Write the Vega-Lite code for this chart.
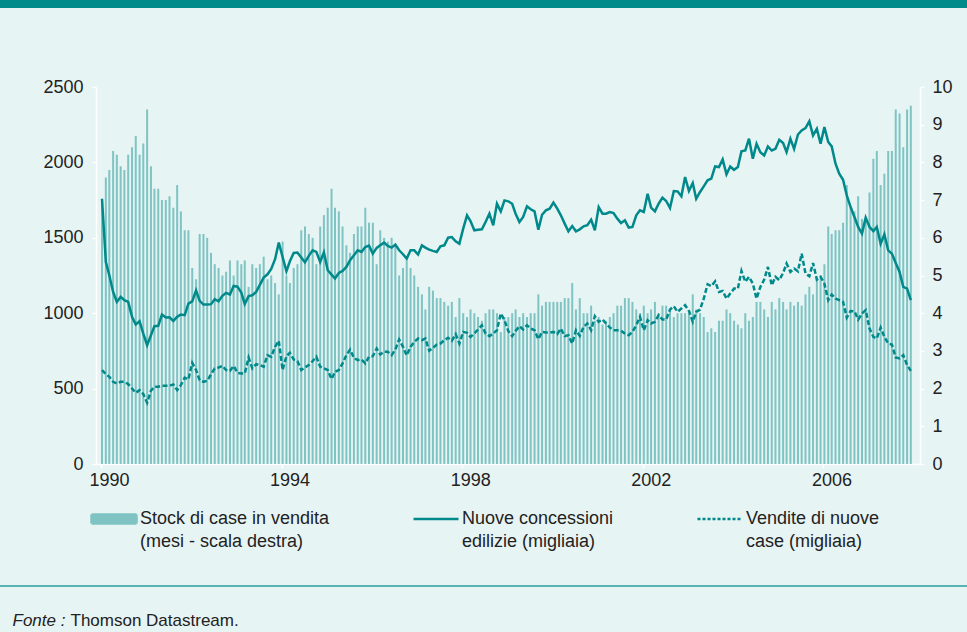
{
  "$schema": "https://vega.github.io/schema/vega-lite/v6.json",
  "width": 824,
  "height": 377,
  "autosize": {"type": "none"},
  "padding": {"left": 96, "top": 87, "right": 47, "bottom": 168},
  "background": "#e7f4f4",
  "config": {
    "view": {"stroke": null},
    "font": "Liberation Sans",
    "axis": {"labelFont": "Liberation Sans", "labelFontSize": 18, "labelColor": "#222222", "domainColor": "#ffffff", "tickColor": "#ffffff", "domainWidth": 1.5, "tickWidth": 1.5, "tickSize": 4, "grid": false, "title": null, "labelOverlap": false}
  },
  "data": {"values": [
    {"d":"1990-01","s":7.0,"p":1759,"v":623},{"d":"1990-02","s":7.6,"p":1340,"v":596},{"d":"1990-03","s":7.8,"p":1252,"v":578},{"d":"1990-04","s":8.3,"p":1141,"v":545},{"d":"1990-05","s":8.2,"p":1075,"v":534},{"d":"1990-06","s":7.9,"p":1108,"v":545},{"d":"1990-07","s":7.8,"p":1086,"v":545},{"d":"1990-08","s":8.2,"p":1075,"v":530},{"d":"1990-09","s":8.4,"p":976,"v":501},{"d":"1990-10","s":8.7,"p":925,"v":472},{"d":"1990-11","s":8.2,"p":947,"v":490},{"d":"1990-12","s":8.5,"p":865,"v":464},
    {"d":"1991-01","s":9.4,"p":788,"v":406},{"d":"1991-02","s":7.9,"p":854,"v":486},{"d":"1991-03","s":7.3,"p":914,"v":512},{"d":"1991-04","s":7.3,"p":916,"v":512},{"d":"1991-05","s":7.0,"p":991,"v":519},{"d":"1991-06","s":7.0,"p":971,"v":519},{"d":"1991-07","s":7.1,"p":973,"v":519},{"d":"1991-08","s":6.8,"p":949,"v":528},{"d":"1991-09","s":7.4,"p":976,"v":490},{"d":"1991-10","s":6.7,"p":991,"v":523},{"d":"1991-11","s":6.2,"p":987,"v":572},{"d":"1991-12","s":6.2,"p":1064,"v":561},
    {"d":"1992-01","s":5.2,"p":1079,"v":671},{"d":"1992-02","s":4.9,"p":1152,"v":623},{"d":"1992-03","s":6.1,"p":1082,"v":556},{"d":"1992-04","s":6.1,"p":1057,"v":545},{"d":"1992-05","s":6.0,"p":1057,"v":552},{"d":"1992-06","s":5.6,"p":1060,"v":594},{"d":"1992-07","s":5.3,"p":1093,"v":634},{"d":"1992-08","s":5.2,"p":1079,"v":640},{"d":"1992-09","s":5.0,"p":1115,"v":651},{"d":"1992-10","s":5.1,"p":1135,"v":623},{"d":"1992-11","s":5.4,"p":1124,"v":618},{"d":"1992-12","s":5.0,"p":1181,"v":651},
    {"d":"1993-01","s":5.4,"p":1176,"v":605},{"d":"1993-02","s":5.3,"p":1137,"v":600},{"d":"1993-03","s":5.4,"p":1060,"v":600},{"d":"1993-04","s":4.7,"p":1113,"v":706},{"d":"1993-05","s":5.3,"p":1119,"v":634},{"d":"1993-06","s":5.2,"p":1141,"v":662},{"d":"1993-07","s":5.3,"p":1188,"v":656},{"d":"1993-08","s":5.5,"p":1236,"v":645},{"d":"1993-09","s":4.9,"p":1258,"v":722},{"d":"1993-10","s":5.0,"p":1294,"v":711},{"d":"1993-11","s":4.8,"p":1358,"v":777},{"d":"1993-12","s":4.5,"p":1468,"v":817},
    {"d":"1994-01","s":5.9,"p":1373,"v":623},{"d":"1994-02","s":5.0,"p":1278,"v":715},{"d":"1994-03","s":4.8,"p":1344,"v":737},{"d":"1994-04","s":5.2,"p":1400,"v":693},{"d":"1994-05","s":5.3,"p":1402,"v":682},{"d":"1994-06","s":6.2,"p":1369,"v":623},{"d":"1994-07","s":6.3,"p":1338,"v":640},{"d":"1994-08","s":6.1,"p":1380,"v":656},{"d":"1994-09","s":6.0,"p":1417,"v":682},{"d":"1994-10","s":5.3,"p":1406,"v":711},{"d":"1994-11","s":6.3,"p":1340,"v":645},{"d":"1994-12","s":6.6,"p":1404,"v":634},
    {"d":"1995-01","s":6.8,"p":1285,"v":623},{"d":"1995-02","s":7.3,"p":1256,"v":563},{"d":"1995-03","s":6.8,"p":1230,"v":612},{"d":"1995-04","s":6.7,"p":1267,"v":623},{"d":"1995-05","s":6.3,"p":1280,"v":667},{"d":"1995-06","s":5.8,"p":1307,"v":722},{"d":"1995-07","s":5.6,"p":1351,"v":759},{"d":"1995-08","s":6.1,"p":1384,"v":704},{"d":"1995-09","s":6.3,"p":1417,"v":689},{"d":"1995-10","s":6.3,"p":1406,"v":693},{"d":"1995-11","s":6.8,"p":1439,"v":667},{"d":"1995-12","s":6.4,"p":1448,"v":711},
    {"d":"1996-01","s":6.4,"p":1395,"v":715},{"d":"1996-02","s":5.3,"p":1433,"v":766},{"d":"1996-03","s":6.2,"p":1450,"v":726},{"d":"1996-04","s":6.0,"p":1468,"v":744},{"d":"1996-05","s":5.9,"p":1446,"v":744},{"d":"1996-06","s":6.0,"p":1435,"v":722},{"d":"1996-07","s":5.8,"p":1455,"v":759},{"d":"1996-08","s":5.0,"p":1417,"v":826},{"d":"1996-09","s":5.2,"p":1391,"v":777},{"d":"1996-10","s":5.4,"p":1362,"v":720},{"d":"1996-11","s":5.2,"p":1417,"v":777},{"d":"1996-12","s":5.0,"p":1417,"v":810},
    {"d":"1997-01","s":4.7,"p":1389,"v":832},{"d":"1997-02","s":4.5,"p":1450,"v":821},{"d":"1997-03","s":4.1,"p":1435,"v":832},{"d":"1997-04","s":4.7,"p":1422,"v":751},{"d":"1997-05","s":4.6,"p":1413,"v":770},{"d":"1997-06","s":4.4,"p":1406,"v":792},{"d":"1997-07","s":4.4,"p":1444,"v":799},{"d":"1997-08","s":4.3,"p":1450,"v":821},{"d":"1997-09","s":4.2,"p":1501,"v":837},{"d":"1997-10","s":4.3,"p":1505,"v":817},{"d":"1997-11","s":3.9,"p":1477,"v":861},{"d":"1997-12","s":4.4,"p":1461,"v":799},
    {"d":"1998-01","s":4.0,"p":1561,"v":876},{"d":"1998-02","s":3.9,"p":1649,"v":870},{"d":"1998-03","s":4.1,"p":1611,"v":843},{"d":"1998-04","s":4.0,"p":1550,"v":865},{"d":"1998-05","s":3.9,"p":1554,"v":892},{"d":"1998-06","s":3.8,"p":1556,"v":920},{"d":"1998-07","s":4.0,"p":1605,"v":865},{"d":"1998-08","s":4.1,"p":1660,"v":848},{"d":"1998-09","s":4.1,"p":1583,"v":865},{"d":"1998-10","s":4.0,"p":1726,"v":887},{"d":"1998-11","s":3.5,"p":1675,"v":998},{"d":"1998-12","s":3.9,"p":1748,"v":954},
    {"d":"1999-01","s":3.9,"p":1742,"v":881},{"d":"1999-02","s":4.0,"p":1726,"v":848},{"d":"1999-03","s":4.1,"p":1660,"v":883},{"d":"1999-04","s":3.9,"p":1605,"v":914},{"d":"1999-05","s":4.0,"p":1638,"v":892},{"d":"1999-06","s":3.9,"p":1709,"v":920},{"d":"1999-07","s":4.0,"p":1689,"v":898},{"d":"1999-08","s":4.0,"p":1675,"v":887},{"d":"1999-09","s":4.5,"p":1554,"v":828},{"d":"1999-10","s":4.2,"p":1653,"v":876},{"d":"1999-11","s":4.3,"p":1682,"v":872},{"d":"1999-12","s":4.3,"p":1693,"v":872},
    {"d":"2000-01","s":4.3,"p":1733,"v":876},{"d":"2000-02","s":4.3,"p":1693,"v":861},{"d":"2000-03","s":4.3,"p":1649,"v":898},{"d":"2000-04","s":4.4,"p":1594,"v":848},{"d":"2000-05","s":4.4,"p":1543,"v":854},{"d":"2000-06","s":4.8,"p":1578,"v":799},{"d":"2000-07","s":4.1,"p":1543,"v":887},{"d":"2000-08","s":4.4,"p":1556,"v":850},{"d":"2000-09","s":4.0,"p":1576,"v":909},{"d":"2000-10","s":4.0,"p":1583,"v":932},{"d":"2000-11","s":4.2,"p":1620,"v":887},{"d":"2000-12","s":3.8,"p":1550,"v":980},
    {"d":"2001-01","s":3.9,"p":1704,"v":943},{"d":"2001-02","s":3.7,"p":1660,"v":958},{"d":"2001-03","s":3.8,"p":1660,"v":932},{"d":"2001-04","s":3.9,"p":1671,"v":905},{"d":"2001-05","s":4.0,"p":1664,"v":887},{"d":"2001-06","s":4.2,"p":1627,"v":887},{"d":"2001-07","s":4.2,"p":1598,"v":883},{"d":"2001-08","s":4.4,"p":1616,"v":865},{"d":"2001-09","s":4.4,"p":1567,"v":854},{"d":"2001-10","s":4.3,"p":1572,"v":876},{"d":"2001-11","s":4.1,"p":1649,"v":920},{"d":"2001-12","s":4.0,"p":1682,"v":976},
    {"d":"2002-01","s":4.2,"p":1671,"v":887},{"d":"2002-02","s":4.0,"p":1792,"v":954},{"d":"2002-03","s":4.1,"p":1700,"v":932},{"d":"2002-04","s":4.3,"p":1675,"v":943},{"d":"2002-05","s":4.0,"p":1726,"v":987},{"d":"2002-06","s":4.2,"p":1766,"v":958},{"d":"2002-07","s":4.2,"p":1744,"v":958},{"d":"2002-08","s":4.1,"p":1698,"v":1024},{"d":"2002-09","s":3.9,"p":1810,"v":1046},{"d":"2002-10","s":4.0,"p":1808,"v":1009},{"d":"2002-11","s":4.0,"p":1775,"v":1031},{"d":"2002-12","s":4.0,"p":1903,"v":1053},
    {"d":"2003-01","s":4.0,"p":1810,"v":1015},{"d":"2003-02","s":4.5,"p":1863,"v":943},{"d":"2003-03","s":4.1,"p":1759,"v":1009},{"d":"2003-04","s":4.0,"p":1804,"v":1024},{"d":"2003-05","s":3.9,"p":1841,"v":1097},{"d":"2003-06","s":3.5,"p":1881,"v":1192},{"d":"2003-07","s":3.6,"p":1892,"v":1179},{"d":"2003-08","s":3.5,"p":1973,"v":1212},{"d":"2003-09","s":3.8,"p":1969,"v":1141},{"d":"2003-10","s":3.8,"p":2020,"v":1148},{"d":"2003-11","s":4.1,"p":1921,"v":1097},{"d":"2003-12","s":4.0,"p":1973,"v":1130},
    {"d":"2004-01","s":3.8,"p":1951,"v":1163},{"d":"2004-02","s":3.7,"p":1969,"v":1163},{"d":"2004-03","s":3.6,"p":2073,"v":1280},{"d":"2004-04","s":4.0,"p":2079,"v":1208},{"d":"2004-05","s":3.8,"p":2157,"v":1241},{"d":"2004-06","s":3.9,"p":2024,"v":1196},{"d":"2004-07","s":4.3,"p":2124,"v":1097},{"d":"2004-08","s":4.3,"p":2068,"v":1174},{"d":"2004-09","s":4.1,"p":2046,"v":1223},{"d":"2004-10","s":3.9,"p":2106,"v":1307},{"d":"2004-11","s":4.3,"p":2079,"v":1185},{"d":"2004-12","s":4.1,"p":2090,"v":1241},
    {"d":"2005-01","s":4.4,"p":2150,"v":1219},{"d":"2005-02","s":4.3,"p":2128,"v":1267},{"d":"2005-03","s":4.1,"p":2068,"v":1329},{"d":"2005-04","s":4.3,"p":2157,"v":1274},{"d":"2005-05","s":4.2,"p":2090,"v":1296},{"d":"2005-06","s":4.3,"p":2185,"v":1278},{"d":"2005-07","s":4.2,"p":2212,"v":1395},{"d":"2005-08","s":4.5,"p":2227,"v":1263},{"d":"2005-09","s":4.7,"p":2272,"v":1245},{"d":"2005-10","s":4.5,"p":2179,"v":1333},{"d":"2005-11","s":4.9,"p":2223,"v":1223},{"d":"2005-12","s":5.0,"p":2124,"v":1241},
    {"d":"2006-01","s":5.3,"p":2234,"v":1196},{"d":"2006-02","s":6.3,"p":2135,"v":1086},{"d":"2006-03","s":6.1,"p":2106,"v":1124},{"d":"2006-04","s":6.2,"p":1991,"v":1097},{"d":"2006-05","s":6.2,"p":1925,"v":1086},{"d":"2006-06","s":6.4,"p":1885,"v":1075},{"d":"2006-07","s":7.4,"p":1781,"v":971},{"d":"2006-08","s":6.8,"p":1704,"v":1015},{"d":"2006-09","s":6.7,"p":1638,"v":1013},{"d":"2006-10","s":7.1,"p":1572,"v":958},{"d":"2006-11","s":6.5,"p":1528,"v":998},{"d":"2006-12","s":6.5,"p":1634,"v":1020},
    {"d":"2007-01","s":7.2,"p":1572,"v":898},{"d":"2007-02","s":8.1,"p":1545,"v":843},{"d":"2007-03","s":8.3,"p":1572,"v":832},{"d":"2007-04","s":7.4,"p":1461,"v":905},{"d":"2007-05","s":7.7,"p":1523,"v":843},{"d":"2007-06","s":8.3,"p":1417,"v":799},{"d":"2007-07","s":8.3,"p":1395,"v":792},{"d":"2007-08","s":9.4,"p":1333,"v":706},{"d":"2007-09","s":9.3,"p":1274,"v":700},{"d":"2007-10","s":8.4,"p":1174,"v":722},{"d":"2007-11","s":9.4,"p":1163,"v":656},{"d":"2007-12","s":9.5,"p":1086,"v":618}
  ]},
  "encoding": {
    "x": {
      "field": "d", "type": "temporal",
      "scale": {"type": "utc", "domain": [{"year": 1990, "month": 1, "date": 1, "utc": true}, {"year": 2008, "month": 1, "date": 12, "utc": true}]},
      "axis": {
        "values": [{"year": 1990, "utc": true}, {"year": 1994, "utc": true}, {"year": 1998, "utc": true}, {"year": 2002, "utc": true}, {"year": 2006, "utc": true}],
        "format": "%Y", "labelOffset": 8, "labelFlush": false, "labelPadding": 3, "tickSize": 4,
        "title": "Thomson Datastream.", "titleX": -26, "titleY": 161, "titleAlign": "left", "titleAnchor": "start", "titleBaseline": "alphabetic",
        "titleFont": "Liberation Sans", "titleFontSize": 17, "titleFontWeight": "normal", "titleColor": "#222222"
      }
    }
  },
  "layer": [
    {
      "mark": {"type": "bar", "width": 2, "xOffset": 1},
      "encoding": {
        "y": {"field": "s", "type": "quantitative", "scale": {"domain": [0, 10], "nice": false},
              "axis": {"orient": "right", "values": [0, 1, 2, 3, 4, 5, 6, 7, 8, 9, 10], "labelPadding": 8}},
        "color": {
          "datum": "stock", "type": "nominal",
          "scale": {"domain": ["stock", "permits", "sales"], "range": ["#7fc3c3", "#00898a", "#00898a"]},
          "legend": {
            "orient": "none", "legendX": -6, "legendY": 408, "direction": "horizontal", "columns": 3, "columnPadding": 78, "padding": 0, "title": null,
            "symbolSize": 2025, "symbolStrokeWidth": 2.5, "labelOffset": 2, "labelLimit": 0,
            "labelFont": "Liberation Sans", "labelFontSize": 18, "labelColor": "#222222", "labelBaseline": "middle",
            "labelExpr": "datum.value === 'stock' ? ['Stock di case in vendita', '(mesi - scala destra)'] : datum.value === 'permits' ? ['Nuove concessioni', 'edilizie (migliaia)'] : ['Vendite di nuove', 'case (migliaia)']",
            "encode": {
              "symbols": {"update": {
                "shape": {"signal": "datum.value === 'stock' ? 'M-1,-0.2H1V0.2H-1Z' : 'stroke'"},
                "fill": {"signal": "datum.value === 'stock' ? '#7fc3c3' : 'transparent'"},
                "stroke": {"signal": "datum.value === 'stock' ? 'transparent' : '#00898a'"},
                "strokeWidth": {"value": 2.5},
                "strokeDash": {"signal": "datum.value === 'sales' ? [3, 2] : [1, 0]"},
                "size": {"value": 2025},
                "opacity": {"value": 1}
              }},
              "labels": {"update": {"dy": {"value": 0}, "lineHeight": {"value": 23}}}
            }
          }
        }
      }
    },
    {
      "layer": [
        {
          "mark": {"type": "line", "strokeWidth": 2.5, "xOffset": 1},
          "encoding": {
            "y": {"field": "p", "type": "quantitative", "scale": {"domain": [0, 2500], "nice": false},
                  "axis": {"orient": "left", "values": [0, 500, 1000, 1500, 2000, 2500], "format": "d", "labelPadding": 9,
                           "title": "Fonte\u00a0:", "titleAngle": 0, "titleX": -84, "titleY": 538, "titleAlign": "left", "titleAnchor": "start", "titleBaseline": "alphabetic",
                           "titleFont": "Liberation Sans", "titleFontSize": 17, "titleFontStyle": "italic", "titleFontWeight": "normal", "titleColor": "#222222"}},
            "color": {"datum": "permits", "type": "nominal", "scale": {"domain": ["stock", "permits", "sales"], "range": ["#7fc3c3", "#00898a", "#00898a"]}}
          }
        },
        {
          "mark": {"type": "line", "strokeWidth": 2.5, "xOffset": 1, "strokeDash": [5, 2.5]},
          "encoding": {
            "y": {"field": "v", "type": "quantitative", "scale": {"domain": [0, 2500], "nice": false},
                  "axis": {"orient": "left", "values": [0, 500, 1000, 1500, 2000, 2500], "format": "d", "labelPadding": 9,
                           "title": "Fonte\u00a0:", "titleAngle": 0, "titleX": -84, "titleY": 538, "titleAlign": "left", "titleAnchor": "start", "titleBaseline": "alphabetic",
                           "titleFont": "Liberation Sans", "titleFontSize": 17, "titleFontStyle": "italic", "titleFontWeight": "normal", "titleColor": "#222222"}},
            "color": {"datum": "sales", "type": "nominal", "scale": {"domain": ["stock", "permits", "sales"], "range": ["#7fc3c3", "#00898a", "#00898a"]}}
          }
        }
      ]
    },
    {
      "data": {"values": [{}]},
      "mark": {"type": "rule", "stroke": "#008b8b", "strokeWidth": 8},
      "encoding": {"x": {"value": -96}, "x2": {"value": 871}, "y": {"value": -83}}
    },
    {
      "data": {"values": [{}]},
      "mark": {"type": "rule", "stroke": "#5ab3b3", "strokeWidth": 2},
      "encoding": {"x": {"value": -96}, "x2": {"value": 871}, "y": {"value": 499}}
    }
  ],
  "resolve": {"scale": {"y": "independent"}}
}
